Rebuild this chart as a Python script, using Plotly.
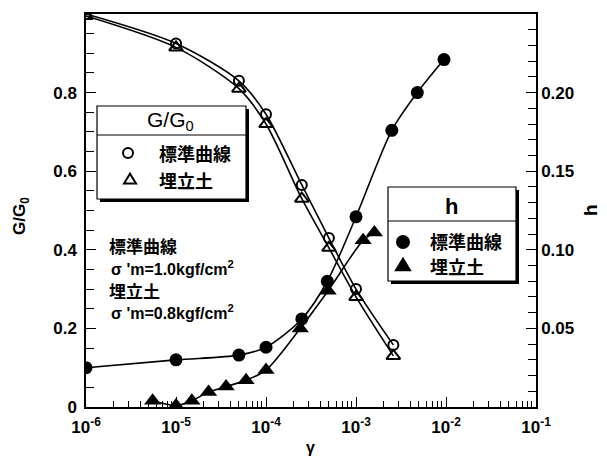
import plotly.graph_objects as go

# ---- data ----
gamma_G = [1e-6, 1e-5, 5e-5, 1e-4, 2.5e-4, 5e-4, 1e-3, 2.6e-3]
GG0_standard = [1.0, 0.925, 0.83, 0.745, 0.565, 0.43, 0.30, 0.158]
GG0_reclaimed = [0.995, 0.915, 0.81, 0.72, 0.53, 0.405, 0.28, 0.13]

gamma_h_standard = [1e-6, 1e-5, 5e-5, 1e-4, 2.5e-4, 4.8e-4, 1e-3, 2.5e-3, 4.8e-3, 9.5e-3]
h_standard = [0.025, 0.030, 0.033, 0.038, 0.056, 0.080, 0.121, 0.176, 0.200, 0.221]

gamma_h_reclaimed = [5.5e-6, 1e-5, 1.5e-5, 2.3e-5, 3.6e-5, 6e-5, 1e-4, 2.4e-4, 4.9e-4, 1.2e-3, 1.6e-3]
h_reclaimed = [0.004, 0.001, 0.004, 0.0095, 0.013, 0.017, 0.0235, 0.050, 0.074, 0.106, 0.111]

x_tickvals = [1e-6, 1e-5, 1e-4, 1e-3, 1e-2, 1e-1]
x_ticktext = ["10<sup>-6</sup>", "10<sup>-5</sup>", "10<sup>-4</sup>", "10<sup>-3</sup>", "10<sup>-2</sup>", "10<sup>-1</sup>"]
y_tickvals = [0, 0.2, 0.4, 0.6, 0.8, 1.0]
y_ticktext = ["0", "0.2", "0.4", "0.6", "0.8", "1"]
y2_tickvals = [0.05, 0.10, 0.15, 0.20, 0.25]
y2_ticktext = ["0.05", "0.10", "0.15", "0.20", "0.25"]

FONT = "Liberation Sans, Arial, Noto Sans CJK JP"
JFONT = "Noto Sans CJK JP, Liberation Sans"

# page pixel geometry (the page body adds an 8px offset)
OFF = 8
W, H = 607 - OFF, 462 - OFF
L, R, T, B = 86, 536, 14, 407   # plot area in page pixels


def px(x):
    return (x - L) / (R - L)


def py(y):
    return (B - y) / (B - T)


fig = go.Figure()
LINE = dict(color="black", width=1.6, shape="spline", smoothing=0.8)

fig.add_trace(go.Scatter(x=gamma_G, y=GG0_standard, mode="lines+markers", line=LINE,
                         marker=dict(symbol="circle-open", size=10, color="black", line=dict(width=2)),
                         showlegend=False))
fig.add_trace(go.Scatter(x=gamma_G, y=GG0_reclaimed, mode="lines+markers", line=LINE,
                         marker=dict(symbol="triangle-up-open", size=12, color="black", line=dict(width=2)),
                         showlegend=False))
fig.add_trace(go.Scatter(x=gamma_h_standard, y=h_standard, mode="lines+markers", yaxis="y2", line=LINE,
                         marker=dict(symbol="circle", size=13, color="black"),
                         showlegend=False))
fig.add_trace(go.Scatter(x=gamma_h_reclaimed, y=h_reclaimed, mode="lines+markers", yaxis="y2", line=LINE,
                         marker=dict(symbol="triangle-up", size=15, color="black"),
                         showlegend=False))

shapes = []
annotations = []


def legend_box(x0, y0, x1, y1, ysep):
    shapes.append(dict(type="rect", xref="paper", yref="paper", x0=px(x0 + 3), x1=px(x1 + 3),
                       y0=py(y1 + 3), y1=py(y0 + 3), fillcolor="black", line=dict(width=0), layer="above"))
    shapes.append(dict(type="rect", xref="paper", yref="paper", x0=px(x0), x1=px(x1),
                       y0=py(y1), y1=py(y0), fillcolor="white", line=dict(color="black", width=1.2), layer="above"))
    shapes.append(dict(type="line", xref="paper", yref="paper", x0=px(x0), x1=px(x1),
                       y0=py(ysep), y1=py(ysep), line=dict(color="black", width=1.2), layer="above"))


def marker_shape(x, y, kind, filled):
    base = dict(xref="paper", yref="paper", xsizemode="pixel", ysizemode="pixel",
                xanchor=px(x), yanchor=py(y), layer="above",
                line=dict(color="black", width=2),
                fillcolor="black" if filled else "white")
    if kind == "circle":
        r = 6 if filled else 5
        base.update(type="circle", x0=-r, x1=r, y0=-r, y1=r)
    else:
        s = 7 if filled else 6
        base.update(type="path", path=f"M{-s},{-s*0.6} L{s},{-s*0.6} L0,{s*1.05} Z")
    shapes.append(base)


legend_box(97, 106, 246, 199, 135)
legend_box(388, 187, 516, 281, 221)
marker_shape(128, 153, "circle", False)
marker_shape(130, 180, "tri", False)
marker_shape(403, 242, "circle", True)
marker_shape(403, 266, "tri", True)


def txt(x, y, s, size=15, xanchor="left", font=JFONT, angle=0):
    annotations.append(dict(x=px(x), y=py(y), xref="paper", yref="paper", text=s, showarrow=False,
                            xanchor=xanchor, yanchor="middle", textangle=angle,
                            font=dict(family=font, size=size, color="black")))


txt(170, 121, "G/G<sub>0</sub>", size=21, xanchor="center", font=FONT)
txt(157, 153, "<b>標準曲線</b>", size=18)
txt(157, 180, "<b>埋立土</b>", size=18)
txt(451, 206, "<b>h</b>", size=22, xanchor="center", font=FONT)
txt(428, 241, "<b>標準曲線</b>", size=18)
txt(428, 266, "<b>埋立土</b>", size=18)

txt(107, 246, "<b>標準曲線</b>", size=17)
txt(109, 268, "<b>σ 'm=1.0kgf/cm<sup>2</sup></b>", size=16, font=FONT)
txt(107, 290, "<b>埋立土</b>", size=17)
txt(109, 312, "<b>σ 'm=0.8kgf/cm<sup>2</sup></b>", size=16, font=FONT)

# axis titles
txt(21, 216, "<b>G/G<sub>0</sub></b>", size=17, xanchor="center", font=FONT, angle=-90)
txt(590, 210, "<b>h</b>", size=19, xanchor="center", font=FONT, angle=-90)
txt(310, 447, "<b>γ</b>", size=16, xanchor="center", font=FONT)

TICKFONT = dict(size=17, family=FONT, weight="bold")

fig.update_layout(
    width=W, height=H,
    margin=dict(l=L - OFF, r=W - (R - OFF), t=T - OFF, b=H - (B - OFF)),
    paper_bgcolor="white", plot_bgcolor="white",
    font=dict(family=FONT, size=15, color="black"),
    showlegend=False,
    xaxis=dict(type="log", range=[-6, -1], tickvals=x_tickvals, ticktext=x_ticktext,
               ticks="inside", ticklen=10, tickwidth=1.2, tickcolor="black",
               minor=dict(ticks="inside", ticklen=6, tickcolor="black", dtick="D1", showgrid=False),
               showline=True, linecolor="black", linewidth=1.5, mirror=True, showgrid=False, zeroline=False,
               tickfont=TICKFONT, automargin=False, ticklabelstandoff=4),
    yaxis=dict(range=[0, 1], tickvals=y_tickvals, ticktext=y_ticktext,
               ticks="inside", ticklen=10, tickwidth=1.2, tickcolor="black",
               minor=dict(ticks="inside", ticklen=8, tickcolor="black", dtick=0.05, showgrid=False),
               showline=True, linecolor="black", linewidth=1.5, showgrid=False, zeroline=False,
               tickfont=TICKFONT, automargin=False, ticklabelstandoff=4),
    yaxis2=dict(range=[0, 0.25], overlaying="y", side="right",
                tickvals=y2_tickvals, ticktext=y2_ticktext,
                ticks="inside", ticklen=10, tickwidth=1.2, tickcolor="black",
                minor=dict(ticks="inside", ticklen=8, tickcolor="black", dtick=0.01, showgrid=False),
                showline=True, linecolor="black", linewidth=1.5, showgrid=False, zeroline=False,
                tickfont=TICKFONT, automargin=False),
    shapes=shapes,
    annotations=annotations,
)

fig.write_html("out.html")
